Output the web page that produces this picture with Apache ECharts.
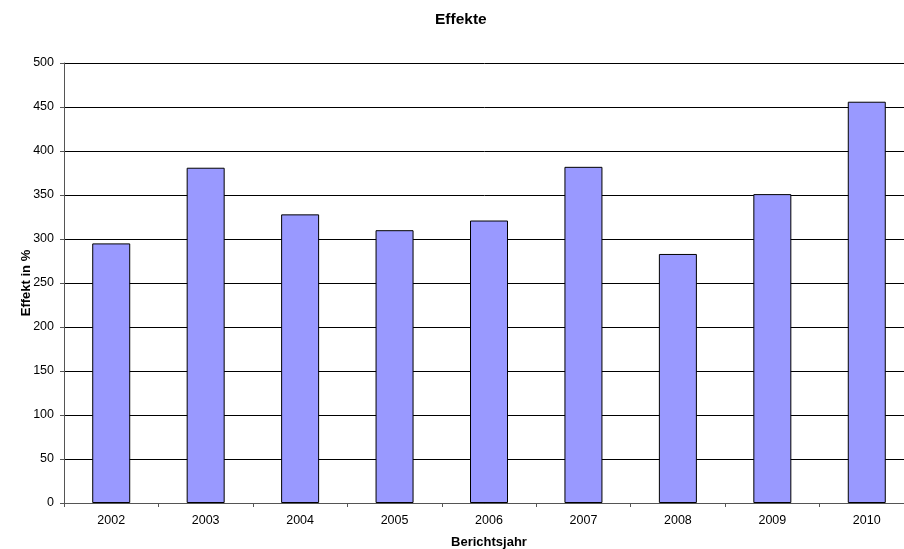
<!DOCTYPE html>
<html>
<head>
<meta charset="utf-8">
<script src="https://cdn.jsdelivr.net/npm/echarts@6/dist/echarts.min.js"></script>
<style>
  html, body { margin: 0; padding: 0; background: #fff; }
  #chart { width: 904px; height: 549px; }
</style>
</head>
<body>
<div id="chart"></div>
<script>
const years = ['2002', '2003', '2004', '2005', '2006', '2007', '2008', '2009', '2010'];
const effekt = [295, 381, 328, 310, 321, 382, 283, 351, 456];

const myChart = echarts.init(document.getElementById('chart'));

const font = 'Liberation Sans, Arial, sans-serif';

const option = {
  animation: false,
  backgroundColor: '#fff',
  title: {
    text: 'Effekte',
    left: 430,
    top: 7,
    textStyle: { fontFamily: font, fontSize: 15.5, fontWeight: 'bold', color: '#000' }
  },
  grid: { left: 64, top: 63, bottom: 46, right: -10, outerBoundsMode: 'none', containLabel: false },
  xAxis: {
    type: 'category',
    data: years,
    name: 'Berichtsjahr',
    nameLocation: 'middle',
    nameGap: 33,
    nameMoveOverlap: false,
    nameTextStyle: { fontFamily: font, fontSize: 13, fontWeight: 'bold', color: '#000' },
    axisLine: { lineStyle: { color: '#555', width: 1 } },
    axisTick: { show: true, length: 4, alignWithLabel: false, lineStyle: { color: '#555' } },
    axisLabel: { fontFamily: font, fontSize: 12.5, color: '#000', margin: 11 }
  },
  yAxis: {
    type: 'value',
    min: 0,
    max: 500,
    interval: 50,
    name: 'Effekt in %',
    nameLocation: 'middle',
    nameGap: 31,
    nameRotate: 90,
    nameMoveOverlap: false,
    nameTextStyle: { fontFamily: font, fontSize: 13, fontWeight: 'bold', color: '#000' },
    axisLine: { show: true, lineStyle: { color: '#555', width: 1 } },
    axisTick: { show: true, length: 4, lineStyle: { color: '#555' } },
    axisLabel: { fontFamily: font, fontSize: 12.5, color: '#000', margin: 10 },
    splitLine: { lineStyle: { color: '#000', width: 1 } }
  },
  series: [
    {
      name: 'Effekt',
      type: 'bar',
      data: effekt,
      barWidth: 38,
      itemStyle: { color: '#9999FF', borderColor: '#000', borderWidth: 1 }
    }
  ]
};

myChart.setOption(option);
</script>
</body>
</html>
